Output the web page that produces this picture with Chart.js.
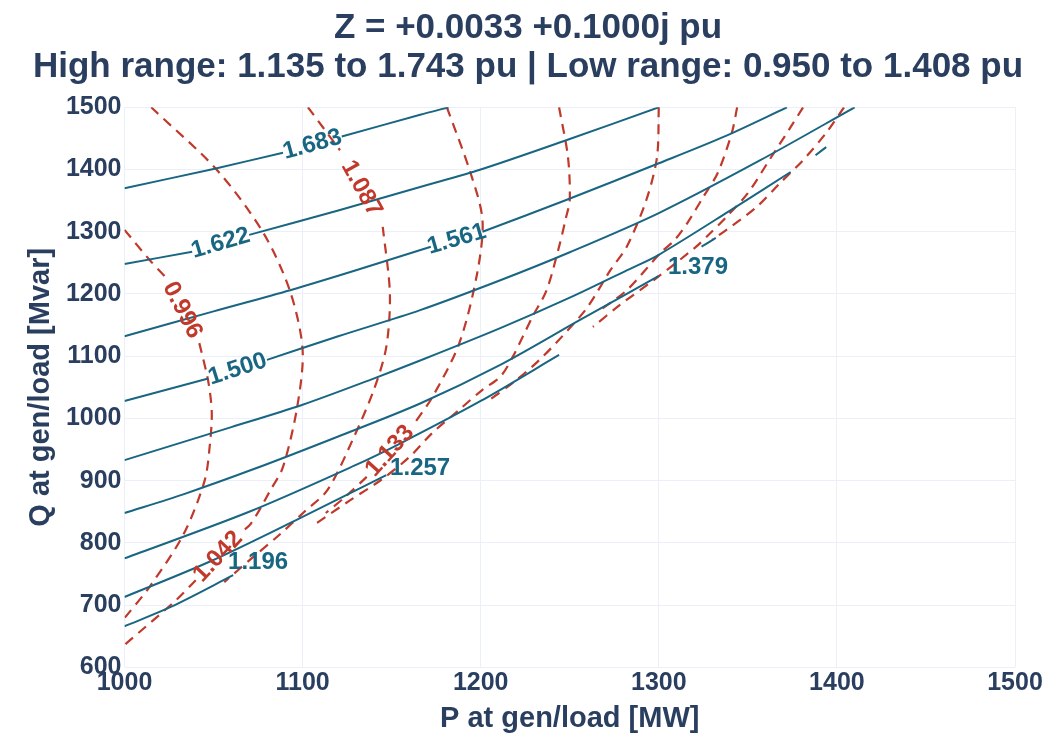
<!DOCTYPE html>
<html>
<head>
<meta charset="utf-8">
<script src="https://cdn.jsdelivr.net/npm/chart.js@4.4.1/dist/chart.umd.min.js"></script>
<style>
html,body{margin:0;padding:0;background:#fff}
#caixa{width:1046px;height:736px}
</style>
</head>
<body>
<div id="caixa"><canvas id="graficoContorno" width="1046" height="736"></canvas></div>
<script>
// títulos e eixos
const titulo=['Z = +0.0033 +0.1000j pu','High range: 1.135 to 1.743 pu | Low range: 0.950 to 1.408 pu']
const ticksP=[1000,1100,1200,1300,1400,1500]
const ticksQ=[600,700,800,900,1000,1100,1200,1300,1400,1500]

// faixa alta (linhas cheias) [P MW, Q Mvar], null = quebra da linha
const alto1683=[[1000,1370],[1050,1401],[1089,1427],null,[1122,1453],[1166,1488],[1182,1500]]
const alto1622=[[1000,1248],[1038,1268],null,[1070,1295],[1120,1334],[1166,1372],[1200,1400],[1248,1447],[1300,1500]]
const alto1561=[[1000,1132],[1050,1172],[1093,1206],[1130,1238],[1172,1276],null,[1201,1300],[1248,1351],[1300,1410],[1336,1452],[1372,1500]]
const alto1500=[[1000,1028],[1047,1064],null,[1080,1094],[1120,1132],[1166,1174],[1211,1222],[1250,1267],[1300,1330],[1357,1415],[1410,1500]]
const alto1439=[[1000,933],[1060,986],[1100,1022],[1138,1062],[1166,1093],[1211,1145],[1250,1194],[1282,1238],[1300,1263],[1340,1334],[1374,1396],null,[1388,1423],[1394,1436]]
const alto1379=[[1000,848],[1033,878],[1073,919],[1120,971],[1166,1024],[1211,1086],[1255,1157],[1300,1229],null,[1324,1276],[1332,1290]]
const alto1318=[[1000,775],[1070,850],[1129,924],[1155,960],[1200,1028],[1244,1102]]
const alto1257=[[1000,713],[1048,770],[1098,839],[1147,909]]
const alto1196=[[1000,666],[1026,697],[1061,748]]

// faixa baixa (linhas tracejadas)
const baixo0996=[[1000,1303],[1014,1255],[1023,1227],null,[1042,1121],[1047,1060],[1049,1010],[1048,960],[1045,900],[1033,813],[1014,729],[1000,679]]
const baixo1042=[[1015,1500],[1052,1399],[1078,1298],[1093,1204],[1100,1110],[1097,1019],[1089,922],[1082,885],[1071,831],[1065,816],null,[1040,740],[1029,708],[1000,636]]
const baixo1087=[[1103,1500],[1121,1431],null,[1145,1308],[1149,1201],[1147,1115],[1140,1046],[1128,965],[1114,885],[1101,850],[1087,813],[1073,779],[1056,737]]
const baixo1133=[[1181,1500],[1194,1397],[1201,1319],[1198,1233],[1188,1121],[1173,1035],[1162,989],null,[1136,906],[1124,874],[1113,848]]
const baixo1179=[[1244,1500],[1249,1420],[1250,1351],[1248,1324],[1244,1276],[1237,1206],[1229,1163],[1218,1099],[1211,1067],[1201,1046],[1188,1014],[1173,977],[1160,938],[1144,901],[1127,869],[1105,826]]
const baixo1225=[[1300,1500],[1299,1420],[1293,1351],[1282,1276],[1273,1239],[1260,1179],[1249,1142],[1233,1094],[1218,1057],[1205,1030]]
const baixo1271=[[1344,1500],[1341,1459],[1333,1394],[1325,1356],[1316,1314],[1309,1287],[1301,1266],[1282,1206],[1267,1174]]
const baixo1317=[[1381,1500],[1374,1468],[1362,1415],[1350,1362],[1338,1324],[1329,1298],[1321,1276],[1297,1222],[1278,1182],[1263,1147]]
const baixo1362=[[1404,1500],[1394,1459],[1381,1415],[1368,1378],[1355,1340],[1338,1303],[1330,1287]]

const linhasAltas=[alto1683,alto1622,alto1561,alto1500,alto1439,alto1379,alto1318,alto1257,alto1196]
const linhasBaixas=[baixo0996,baixo1042,baixo1087,baixo1133,baixo1179,baixo1225,baixo1271,baixo1317,baixo1362]

// rótulos: sem p/q fica no vão da linha, com p/q fica horizontal
const rotulosAltos=[
{linha:alto1683,texto:'1.683'},
{linha:alto1622,texto:'1.622'},
{linha:alto1561,texto:'1.561'},
{linha:alto1500,texto:'1.500'},
{linha:alto1379,texto:'1.379',p:1322,q:1242},
{linha:alto1257,texto:'1.257',p:1166,q:920},
{linha:alto1196,texto:'1.196',p:1075,q:768}
]
const rotulosBaixos=[
{linha:baixo0996,texto:'0.996'},
{linha:baixo1042,texto:'1.042'},
{linha:baixo1087,texto:'1.087'},
{linha:baixo1133,texto:'1.133'}
]

const corAlta='#196683'
const corBaixa='#c0392b'
const corTexto='#2a3f5f'
const fonte='"Liberation Sans", Arial, sans-serif'

let paraPontos=l=>l.map(p=>p?{x:p[0],y:p[1]}:{x:NaN,y:NaN})

let datasets=[]

linhasAltas.forEach(l=>{
datasets.push({
data:paraPontos(l),
showLine:true,
borderColor:corAlta,
borderWidth:2,
pointRadius:0,
tension:0.3,
spanGaps:false
})
})

linhasBaixas.forEach(l=>{
datasets.push({
data:paraPontos(l),
showLine:true,
borderColor:corBaixa,
borderWidth:2.2,
borderDash:[10,7],
pointRadius:0,
tension:0.3,
spanGaps:false
})
})

const pluginTitulo={
id:'tituloTopo',
afterDraw(chart){
let ctx=chart.ctx
ctx.save()
ctx.fillStyle=corTexto
ctx.font='bold 35px '+fonte
ctx.textAlign='center'
ctx.textBaseline='middle'
ctx.fillText(titulo[0],528,28)
ctx.fillText(titulo[1],528,67)
ctx.restore()
}
}

function desenhaRotulos(chart,lista,cor){
let ctx=chart.ctx
let sx=chart.scales.x
let sy=chart.scales.y
ctx.save()
ctx.fillStyle=cor
ctx.font='bold 24px '+fonte
ctx.textAlign='center'
ctx.textBaseline='middle'
lista.forEach(r=>{
if(r.p!==undefined){
ctx.fillText(r.texto,sx.getPixelForValue(r.p),sy.getPixelForValue(r.q))
return
}
let i=r.linha.indexOf(null)
let a=r.linha[i-1]
let b=r.linha[i+1]
let x1=sx.getPixelForValue(a[0]),y1=sy.getPixelForValue(a[1])
let x2=sx.getPixelForValue(b[0]),y2=sy.getPixelForValue(b[1])
let ang=Math.atan2(y2-y1,x2-x1)
if(ang>Math.PI/2)ang-=Math.PI
if(ang<-Math.PI/2)ang+=Math.PI
ctx.save()
ctx.translate((x1+x2)/2,(y1+y2)/2)
ctx.rotate(ang)
ctx.fillText(r.texto,0,0)
ctx.restore()
})
ctx.restore()
}

const pluginRotulos={
id:'rotulosContorno',
afterDatasetsDraw(chart){
desenhaRotulos(chart,rotulosAltos,corAlta)
desenhaRotulos(chart,rotulosBaixos,corBaixa)
}
}

new Chart(document.getElementById('graficoContorno'),{
type:'scatter',
data:{datasets:datasets},
options:{
responsive:false,
animation:false,
layout:{padding:{top:107.3,right:31,bottom:0,left:0}},
plugins:{
legend:{display:false},
tooltip:{enabled:false},
title:{display:false}
},
scales:{
x:{
type:'linear',
min:1000,
max:1500,
afterBuildTicks(s){s.ticks=ticksP.map(v=>({value:v}))},
afterFit(s){s.height=68.7},
grid:{color:'#ebf0f8',lineWidth:1,drawTicks:false},
border:{display:false},
ticks:{color:corTexto,padding:1,font:{family:fonte,size:25,weight:'bold'},callback:v=>String(v)},
title:{display:true,text:'P at gen/load [MW]',color:corTexto,font:{family:fonte,size:29,weight:'bold'},padding:{top:0,bottom:0}}
},
y:{
type:'linear',
min:600,
max:1500,
afterBuildTicks(s){s.ticks=ticksQ.map(v=>({value:v}))},
afterFit(s){s.width=124.5},
grid:{color:'#ebf0f8',lineWidth:1,drawTicks:false},
border:{display:false},
ticks:{color:corTexto,padding:3,font:{family:fonte,size:25,weight:'bold'},callback:v=>String(v)},
title:{display:true,text:'Q at gen/load [Mvar]',color:corTexto,font:{family:fonte,size:29,weight:'bold'},padding:{top:24,bottom:0}}
}
}
},
plugins:[pluginTitulo,pluginRotulos]
})
</script>
</body>
</html>
